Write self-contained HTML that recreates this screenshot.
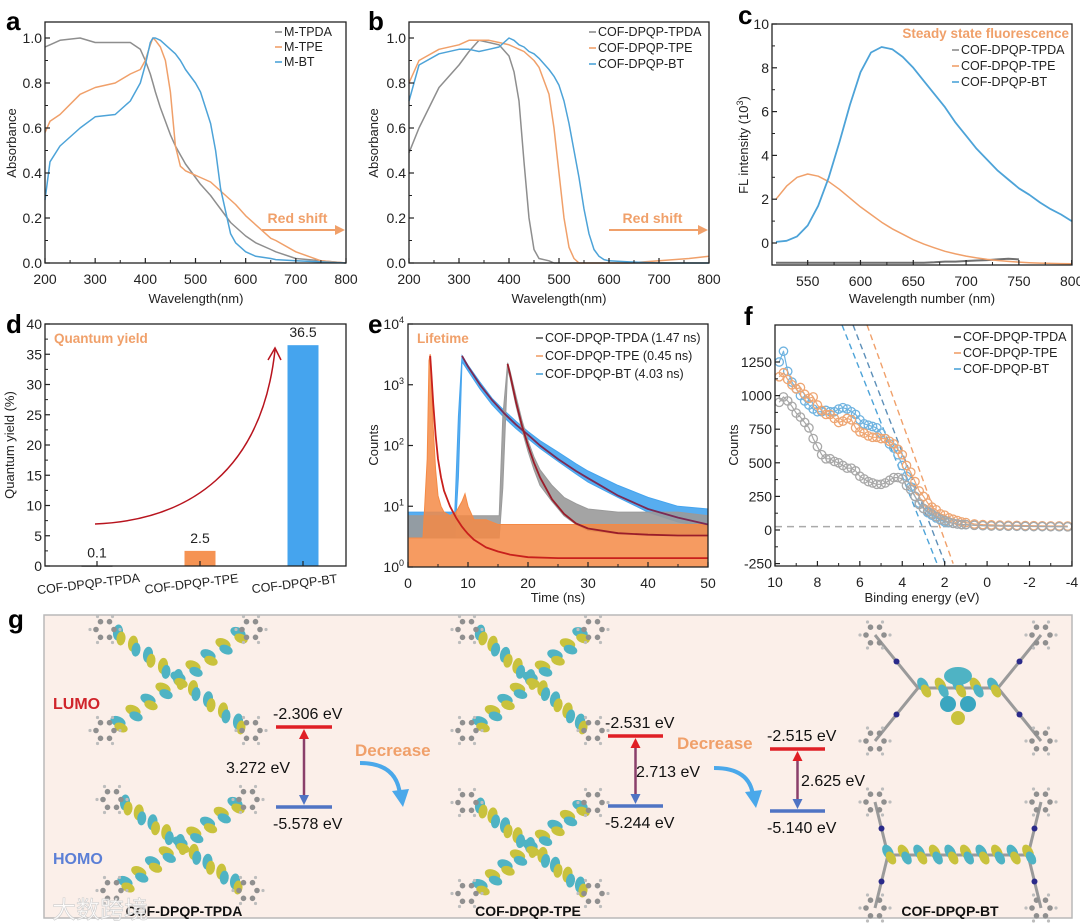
<!DOCTYPE html>
<html><head><meta charset="utf-8">
<style>
html,body{margin:0;padding:0;background:#fff;}
svg{display:block;font-family:"Liberation Sans","Noto Sans CJK SC",sans-serif;}
.tk{font-size:14px;fill:#222;}
.ttl{font-size:13px;fill:#222;}
.lg{font-size:12.5px;fill:#222;}
.pl{font-size:26px;font-weight:bold;fill:#000;}
</style></head>
<body>
<svg id="fig" width="1080" height="924" viewBox="0 0 1080 924" xmlns="http://www.w3.org/2000/svg">
<rect width="1080" height="924" fill="#fff"/>
<text class="pl" x="6" y="30">a</text>
<text class="pl" x="368" y="30">b</text>
<text class="pl" x="738" y="24">c</text>
<text class="pl" x="6" y="333">d</text>
<text class="pl" x="368" y="333">e</text>
<text class="pl" x="744" y="325">f</text>
<text class="pl" x="8" y="628">g</text>
</svg>
<script>
// ---------- DATA ----------
const aWl = [200,210,230,270,300,340,370,390,400,410,415,420,430,440,450,460,470,475,480,500,510,530,540,550,570,580,600,620,650,660,700,750,800];
const aTPDA = [0.96,0.97,0.99,1.0,0.98,0.98,0.98,0.95,0.9,0.84,0.8,0.76,0.69,0.63,0.57,0.52,0.48,0.46,0.44,0.38,0.35,0.3,0.27,0.24,0.18,0.16,0.12,0.09,0.06,0.05,0.02,0.01,0.0];
const aTPE = [0.58,0.63,0.66,0.75,0.78,0.8,0.84,0.86,0.9,0.97,1.0,0.99,0.96,0.9,0.76,0.52,0.43,0.42,0.41,0.39,0.38,0.36,0.34,0.32,0.28,0.26,0.21,0.17,0.11,0.1,0.05,0.01,0.0];
const aBT = [0.28,0.45,0.52,0.6,0.65,0.66,0.72,0.8,0.88,0.98,1.0,1.0,0.99,0.97,0.95,0.93,0.9,0.88,0.86,0.8,0.76,0.62,0.5,0.33,0.13,0.09,0.05,0.03,0.02,0.015,0.01,0.005,0.0];

const bWl = [200,220,260,300,320,340,360,380,400,410,420,430,440,450,460,480,490,500,510,520,530,540,550,560,570,580,590,600,640,700,760,800];
const bTPDA = [0.49,0.6,0.78,0.88,0.94,0.99,0.98,0.97,0.92,0.85,0.72,0.45,0.2,0.06,0.02,0.01,0.0,0.0,0.0,0.0,0.0,0.0,0.0,0.0,0.0,0.0,0.0,0.0,0.0,0.0,0.0,0.0];
const bTPE = [0.8,0.9,0.95,0.97,0.99,0.99,0.99,0.98,0.97,0.96,0.95,0.94,0.92,0.9,0.87,0.75,0.6,0.4,0.2,0.07,0.02,0.0,0.0,0.0,0.0,0.0,0.0,0.0,0.0,0.01,0.02,0.03];
const bBT = [0.72,0.88,0.93,0.95,0.95,0.94,0.95,0.96,1.0,0.99,0.97,0.96,0.94,0.93,0.91,0.86,0.83,0.79,0.72,0.62,0.5,0.38,0.24,0.13,0.06,0.03,0.015,0.01,0.005,0.0,0.0,0.0];

const cWl = [520,530,540,550,560,570,580,590,600,610,620,630,640,650,660,670,680,690,700,710,720,730,740,750,760,770,780,790,800];
const cTPDA = [-0.9,-0.9,-0.9,-0.9,-0.9,-0.9,-0.9,-0.9,-0.9,-0.9,-0.9,-0.9,-0.9,-0.9,-0.9,-0.88,-0.85,-0.85,-0.82,-0.8,-0.78,-0.75,-0.72,-0.75,null,null,null,null,null];
const cTPE = [2.0,2.6,3.0,3.15,3.05,2.8,2.45,2.05,1.65,1.3,0.95,0.65,0.4,0.15,-0.05,-0.22,-0.38,-0.5,-0.6,-0.68,-0.75,-0.8,-0.84,-0.87,-0.9,-0.92,-0.93,-0.94,-0.95];
const cBT = [0.05,0.1,0.3,0.8,1.7,3.0,4.6,6.3,7.8,8.7,8.95,8.85,8.5,8.0,7.4,6.8,6.2,5.5,4.9,4.3,3.8,3.3,2.9,2.5,2.2,1.85,1.55,1.3,1.0];

const dCats = ["COF-DPQP-TPDA","COF-DPQP-TPE","COF-DPQP-BT"];
const dVals = [0.1,2.5,36.5];
const dLabels = ["0.1","2.5","36.5"];

const eTpeT = [0,2.5,3.2,3.5,3.7,3.9,4.2,4.6,5,5.5,6,7,8,9,9.5,10,11,13,15,17,20,25,30,35,40,45,50];
const eTpeLow = [1,1,1,1,1,1,1,1,1,1,1,1,1,1,1,1,1,1,1,1,1,1,1,1,1,1,1];
const eTpeHigh = [3,3,60,2500,3200,1200,200,40,15,10,8,7,8,12,16,10,6,6,5,5,5,5,5,5,5,5,5];
const eTpeFit = [null,null,null,null,3000,1500,500,150,60,30,18,10,6.5,4.6,4,3.5,2.8,2.1,1.8,1.6,1.45,1.4,1.4,1.4,1.4,1.4,1.4];
const eBtT = [0,7.8,8.4,9,10,12,14,16,18,20,22,25,28,30,35,40,45,50];
const eBtLow = [3,3,30,2400,1700,850,470,290,190,130,90,55,34,25,14,8,5.5,4.5];
const eBtHigh = [8,8,300,3000,2100,1100,600,380,250,170,120,78,50,38,22,14,10,9];
const eBtFit = [null,null,null,3000,2000,1000,560,340,220,150,100,60,38,29,15,9,6.5,5];
const eTpdaT = [0,15.2,15.8,16.6,17,18,19,20,21,22,24,26,28,30,35,40,45,50];
const eTpdaLow = [3,3,20,1800,1300,450,180,80,40,22,12,7,5,4,3.5,3.5,3.5,3.5];
const eTpdaHigh = [7,7,300,2300,1700,650,260,120,65,40,22,14,11,9,8,8,8,7];
const eTpdaFit = [null,null,null,2200,1500,520,210,100,52,30,13,7.5,5.2,4.3,3.6,3.4,3.3,3.3];

const fE = [9.8,9.6,9.4,9.2,9.0,8.8,8.6,8.4,8.2,8.0,7.8,7.6,7.4,7.2,7.0,6.8,6.6,6.4,6.2,6.0,5.8,5.6,5.4,5.2,5.0,4.8,4.6,4.4,4.2,4.0,3.8,3.6,3.4,3.2,3.0,2.8,2.6,2.4,2.2,2.0,1.8,1.6,1.4,1.2,1.0,0.6,0.2,-0.2,-0.6,-1.0,-1.4,-1.8,-2.2,-2.6,-3.0,-3.4,-3.8];
const fTPDA = [950,990,960,920,870,840,800,760,680,620,560,530,530,510,500,480,460,460,440,400,380,360,350,340,340,350,370,390,390,380,330,300,250,190,160,140,120,100,80,70,60,50,45,40,40,35,32,30,30,28,28,27,26,26,25,25,24];
const fTPE = [1140,1170,1120,1080,1050,1060,1010,980,990,930,890,860,860,830,800,810,830,820,760,730,720,700,690,690,680,680,660,640,600,560,480,430,360,290,250,200,170,150,120,110,90,80,70,60,55,45,40,38,36,35,34,33,32,31,30,30,29];
const fBT = [1250,1330,1180,1100,1050,1000,960,930,900,880,880,890,880,880,900,910,900,880,860,820,790,780,770,760,720,680,640,610,560,480,400,320,250,200,160,130,110,90,75,60,55,50,45,40,40,36,33,31,30,29,28,27,27,26,26,25,25];
const fTanTop = [6.84,6.32,5.66];
const fTanBot = [2.36,1.98,1.60];
const fBaseline = 25;

const gLevels = [[-2.306,-5.578],[-2.531,-5.244],[-2.515,-5.140]];
const gGaps = ["3.272 eV","2.713 eV","2.625 eV"];
const gNames = ["COF-DPQP-TPDA","COF-DPQP-TPE","COF-DPQP-BT"];

// ---------- HELPERS ----------
const NS = "http://www.w3.org/2000/svg";
const svg = document.getElementById('fig');
function add(tag, attrs, parent){
  const e = document.createElementNS(NS, tag);
  for (const k in attrs) e.setAttribute(k, attrs[k]);
  (parent || svg).appendChild(e);
  return e;
}
function txt(s, attrs, parent){ const e = add('text', attrs, parent); e.textContent = s; return e; }
const GRAY="#8e8e8e", ORANGE="#f0a06a", BLUE="#4da3d8", LBLUE="#45a4ee", RED="#b8141e";

function ptsOf(xs, ys, sx, sy){
  const out=[]; for(let i=0;i<xs.length;i++){ if(ys[i]===null||ys[i]===undefined) continue; out.push(sx(xs[i]).toFixed(1)+","+sy(ys[i]).toFixed(1)); } return out.join(" ");
}
function frame(x0,y0,x1,y1,name){
  let el = add('rect',{x:x0,y:y0,width:x1-x0,height:y1-y0,fill:'none',stroke:'#222','stroke-width':1.3});
  
  
}
function xAxis(ticks, labels, sx, yBase, name, minor){
  ticks.forEach((t,i)=>{
    let tk = add('line',{x1:sx(t),x2:sx(t),y1:yBase,y2:yBase-5,stroke:'#222','stroke-width':1.2});
    
    
    let lb = txt(labels[i],{x:sx(t),y:yBase+21,'text-anchor':'middle',class:'tk'});
    
    
    if(minor && i<ticks.length-1){
      const m=(t+ticks[i+1])/2;
      let mk = add('line',{x1:sx(m),x2:sx(m),y1:yBase,y2:yBase-3,stroke:'#222','stroke-width':1});
      
      
    }
  });
}
function yAxis(ticks, labels, sy, xBase, name, minor){
  ticks.forEach((t,i)=>{
    let tk = add('line',{x1:xBase,x2:xBase+5,y1:sy(t),y2:sy(t),stroke:'#222','stroke-width':1.2});
    
    
    let lb = txt(labels[i],{x:xBase-3,y:sy(t)+5,'text-anchor':'end',class:'tk'});
    
    
    if(minor && i<ticks.length-1){
      const m=(t+ticks[i+1])/2;
      let mk = add('line',{x1:xBase,x2:xBase+3,y1:sy(m),y2:sy(m),stroke:'#222','stroke-width':1});
      
      
    }
  });
}
function line(xs, ys, sx, sy, color, name, w){
  let el = add('polyline',{points:ptsOf(xs,ys,sx,sy),fill:'none',stroke:color,'stroke-width':w||1.5,'stroke-linejoin':'round'});
  
  
  return el;
}
function legend(items, x, y0, dy, name){
  items.forEach((it,i)=>{
    let l = add('line',{x1:x-9,x2:x-2,y1:y0+i*dy-4,y2:y0+i*dy-4,stroke:it[1],'stroke-width':1.6});
    
    
    let t = txt(it[0],{x:x,y:y0+i*dy,class:'lg'});
    
    
  });
}
function vTitle(s,x,y,name){
  let t = txt(s,{x:x,y:y,'text-anchor':'middle',class:'ttl',transform:`rotate(-90 ${x} ${y})`});
  
  
  return t;
}
function hTitle(s,x,y,name){
  let t = txt(s,{x:x,y:y,'text-anchor':'middle',class:'ttl'});
  
  
}
function redShift(x0,x1,y,name){
  let t = txt('Red shift',{x:(x0+x1)/2-6,y:y-7,'text-anchor':'middle','font-size':14,'font-weight':'bold',fill:ORANGE});
  
  
  let l = add('line',{x1:x0,x2:x1-8,y1:y,y2:y,stroke:ORANGE,'stroke-width':2});
  
  
  let h = add('polygon',{points:`${x1},${y} ${x1-10},${y-5} ${x1-10},${y+5}`,fill:ORANGE});
  
  
}

// ---------- PANEL A ----------
const xa = v=>45+(v-200)*301/600, ya = v=>263-v*225;
line(aWl,aTPDA,xa,ya,GRAY,'curve-m-tpda');
line(aWl,aTPE,xa,ya,ORANGE,'curve-m-tpe');
line(aWl,aBT,xa,ya,BLUE,'curve-m-bt');
frame(45,22,346,263,'plot-frame-a');
xAxis([200,300,400,500,600,700,800],["200","300","400","500","600","700","800"],xa,263,'x-axis-a',true);
yAxis([0,0.2,0.4,0.6,0.8,1.0],["0.0","0.2","0.4","0.6","0.8","1.0"],ya,45,'y-axis-a',true);
vTitle('Absorbance',16,143,'y-axis-title-a');
hTitle('Wavelength(nm)',196,303,'x-axis-title-a');
legend([["M-TPDA",GRAY],["M-TPE",ORANGE],["M-BT",BLUE]],284,36,15,'legend-a');
redShift(262,345,230,'red-shift-a');

// ---------- PANEL B ----------
const xb = v=>409+(v-200)*0.5, yb = ya;
line(bWl,bTPDA,xb,yb,GRAY,'curve-cof-tpda-abs');
line(bWl,bTPE,xb,yb,ORANGE,'curve-cof-tpe-abs');
line(bWl,bBT,xb,yb,BLUE,'curve-cof-bt-abs');
frame(409,22,709,263,'plot-frame-b');
xAxis([200,300,400,500,600,700,800],["200","300","400","500","600","700","800"],xb,263,'x-axis-b',true);
yAxis([0,0.2,0.4,0.6,0.8,1.0],["0.0","0.2","0.4","0.6","0.8","1.0"],yb,409,'y-axis-b',true);
vTitle('Absorbance',378,143,'y-axis-title-b');
hTitle('Wavelength(nm)',559,303,'x-axis-title-b');
legend([["COF-DPQP-TPDA",GRAY],["COF-DPQP-TPE",ORANGE],["COF-DPQP-BT",BLUE]],598,36,16,'legend-b');
redShift(609,708,230,'red-shift-b');

// ---------- PANEL C ----------
const xc = v=>776+(v-520)*1.056, yc = v=>243-v*21.9;
line(cWl,cTPDA,xc,yc,'#6f6f6f','curve-cof-tpda-fl',2);
line(cWl,cTPE,xc,yc,ORANGE,'curve-cof-tpe-fl');
line(cWl,cBT,xc,yc,BLUE,'curve-cof-bt-fl',1.8);
frame(772,24,1072,265,'plot-frame-c');
xAxis([550,600,650,700,750,800],["550","600","650","700","750","800"],xc,265,'x-axis-c',true);
yAxis([0,2,4,6,8,10],["0","2","4","6","8","10"],yc,772,'y-axis-c',true);
{ let t = txt('',{x:748,y:145,'text-anchor':'middle',class:'ttl',transform:'rotate(-90 748 145)'});
  t.innerHTML='FL intensity (10<tspan font-size="9" dy="-5">3</tspan><tspan dy="5">)</tspan>';
  
   }
hTitle('Wavelength number (nm)',922,303,'x-axis-title-c');
{ let t = txt('Steady state fluorescence',{x:1069,y:38,'text-anchor':'end','font-size':13.5,'font-weight':'bold',fill:ORANGE});
  
   }
legend([["COF-DPQP-TPDA",GRAY],["COF-DPQP-TPE",ORANGE],["COF-DPQP-BT",BLUE]],961,54,16,'legend-c');

// ---------- PANEL D ----------
const yd = v=>566-v*6.05;
const xd = i=>97+i*103;
dVals.forEach((v,i)=>{
  const colors=[GRAY,"#f59353",LBLUE];
  let b = add('rect',{x:xd(i)-15.5,y:yd(v),width:31,height:Math.max(566-yd(v),1.5),fill:colors[i]});
  
  
  let l = txt(dLabels[i],{x:xd(i),y:yd(v)-8,'text-anchor':'middle',class:'tk'});
  
  
  let c = txt(dCats[i],{x:xd(i)-8,y:588,'text-anchor':'middle','font-size':12.5,fill:'#222',transform:`rotate(-7 ${xd(i)-8} 588)`});
  
  
});
frame(45,324,346,566,'plot-frame-d');
yAxis([0,5,10,15,20,25,30,35,40],["0","5","10","15","20","25","30","35","40"],yd,45,'y-axis-d',true);
dCats.forEach((c,i)=>{ let t=add('line',{x1:xd(i),x2:xd(i),y1:566,y2:561,stroke:'#222','stroke-width':1.2});
    });
vTitle('Quantum yield (%)',14,445,'y-axis-title-d');
{ let t = txt('Quantum yield',{x:54,y:343,'font-size':13.5,'font-weight':'bold',fill:ORANGE});
  
  
  let p = add('path',{d:`M 95 524 C 190 520, 262 470, 275 350`,fill:'none',stroke:RED,'stroke-width':1.5});
  
  
  let h = add('polyline',{points:'268,360 275,348 281,360',fill:'none',stroke:RED,'stroke-width':1.5});
  
   }

// ---------- PANEL E ----------
const xe = t=>408+t*6, ye = v=>567-Math.log10(v)*60.75;
function band(ts,lo,hi,color,name,op){
  const up=[],dn=[];
  for(let i=0;i<ts.length;i++){ up.push(xe(ts[i]).toFixed(1)+","+ye(hi[i]).toFixed(1)); dn.unshift(xe(ts[i]).toFixed(1)+","+ye(lo[i]).toFixed(1)); }
  let p = add('polygon',{points:up.concat(dn).join(" "),fill:color,stroke:color,'stroke-width':1,'fill-opacity':op});
  
  
}
band(eBtT,eBtLow,eBtHigh,LBLUE,'decay-cof-bt',0.9);
band(eTpdaT,eTpdaLow,eTpdaHigh,'#9a9a9a','decay-cof-tpda',0.9);
band(eTpeT,eTpeLow,eTpeHigh,'#f58a45','decay-cof-tpe',0.85);
line(eBtT,eBtFit,xe,ye,'#7a2a55','fit-cof-bt',1.8);
line(eTpdaT,eTpdaFit,xe,ye,'#9a1d2a','fit-cof-tpda',1.8);
line(eTpeT,eTpeFit,xe,ye,'#c8201c','fit-cof-tpe',1.8);
frame(408,324,708,567,'plot-frame-e');
xAxis([0,10,20,30,40,50],["0","10","20","30","40","50"],xe,567,'x-axis-e',true);
[1,10,100,1000,10000].forEach((v,i)=>{
  let tk = add('line',{x1:408,x2:413,y1:ye(v),y2:ye(v),stroke:'#222','stroke-width':1.2});
  
  
  let t = txt('',{x:404,y:ye(v)+5,'text-anchor':'end',class:'tk'});
  t.innerHTML='10<tspan font-size="9" dy="-6">'+i+'</tspan>';
  
  
});
vTitle('Counts',378,445,'y-axis-title-e');
hTitle('Time (ns)',558,602,'x-axis-title-e');
{ let t = txt('Lifetime',{x:417,y:343,'font-size':13.5,'font-weight':'bold',fill:ORANGE});
  
   }
legend([["COF-DPQP-TPDA (1.47 ns)","#555"],["COF-DPQP-TPE (0.45 ns)",ORANGE],["COF-DPQP-BT (4.03 ns)",BLUE]],545,342,18,'legend-e');

// ---------- PANEL F ----------
const xf = E=>775+(10-E)*21.21, yf = c=>530-c*0.1344;
{ let b = add('line',{x1:xf(10),x2:xf(1.8),y1:yf(fBaseline),y2:yf(fBaseline),stroke:'#aaa','stroke-width':1.5,'stroke-dasharray':'7,5'});
  
   }
const tanColors=[BLUE,'#5d8fb8',ORANGE];
fTanTop.forEach((e,i)=>{
  let l = add('line',{x1:xf(e),y1:yf(1525),x2:xf(fTanBot[i]),y2:yf(-250),stroke:tanColors[i],'stroke-width':1.4,'stroke-dasharray':'6,4'});
  
  
});
function scatter(ys,color,name){
  line(fE,ys,xf,yf,color,name+'-line',1.2);
  fE.forEach((e,i)=>{
    let c = add('circle',{cx:xf(e),cy:yf(ys[i]),r:4.2,fill:'none',stroke:color,'stroke-width':1.3});
    
    
  });
}
scatter(fBT,'#6fb3e0','ups-cof-bt');
scatter(fTPE,'#eea673','ups-cof-tpe');
scatter(fTPDA,'#a8a8a8','ups-cof-tpda');
frame(775,325,1072,566,'plot-frame-f');
xAxis([10,8,6,4,2,0,-2,-4],["10","8","6","4","2","0","-2","-4"],xf,566,'x-axis-f',true);
yAxis([-250,0,250,500,750,1000,1250],["-250","0","250","500","750","1000","1250"],yf,775,'y-axis-f',true);
vTitle('Counts',738,445,'y-axis-title-f');
hTitle('Binding energy (eV)',922,602,'x-axis-title-f');
legend([["COF-DPQP-TPDA","#444"],["COF-DPQP-TPE",ORANGE],["COF-DPQP-BT",BLUE]],963,341,16,'legend-f');

// ---------- PANEL G ----------
{ let r = add('rect',{x:44,y:615,width:1028,height:303,fill:'#fbefe9',stroke:'#b9b9b9','stroke-width':1.5});
  
   }
function blobChain(g,x0,y0,x1,y1,n){
  const ang=Math.atan2(y1-y0,x1-x0)*180/Math.PI;
  for(let k=0;k<n;k++){
    const f=n>1?k/(n-1):0.5, x=x0+(x1-x0)*f, y=y0+(y1-y0)*f;
    add('ellipse',{cx:x,cy:y-3,rx:8,ry:5,fill:k%2?'#c9c23c':'#4fb3c4',transform:`rotate(${ang+60} ${x} ${y-3})`},g);
    add('ellipse',{cx:x+3,cy:y+3,rx:7,ry:4.5,fill:k%2?'#4fb3c4':'#c9c23c',transform:`rotate(${ang+60} ${x+3} ${y+3})`},g);
  }
}
function phenyl(g,x,y){
  for(let k=0;k<6;k++){
    const an=k*Math.PI/3;
    add('circle',{cx:x+Math.cos(an)*9,cy:y+Math.sin(an)*9,r:2.8,fill:'#8f8f8f'},g);
    add('circle',{cx:x+Math.cos(an)*15,cy:y+Math.sin(an)*15,r:1.6,fill:'#bdbdbd'},g);
  }
}
function molecule(cx,cy,w,h,kind,name){
  const g = add('g',{});
  
  
  const corners=[[-w/2+12,-h/2+12],[w/2-12,-h/2+12],[-w/2+12,h/2-12],[w/2-12,h/2-12]];
  if(kind==='x'){
    blobChain(g,cx-w/2+25,cy-h/2+18,cx+w/2-25,cy+h/2-18,9);
    blobChain(g,cx-w/2+25,cy+h/2-18,cx+w/2-25,cy-h/2+18,9);
  } else {
    const half = kind==='bt-lumo'?40:70;
    corners.forEach(c=>{
      const ex = cx + (c[0]<0?-half:half);
      add('line',{x1:cx+c[0],y1:cy+c[1],x2:ex,y2:cy,stroke:'#9a9a9a','stroke-width':3},g);
      add('circle',{cx:(cx+c[0]+ex)/2,cy:(cy+c[1]+cy)/2,r:3,fill:'#2a2a8a'},g);
    });
    add('line',{x1:cx-half,y1:cy,x2:cx+half,y2:cy,stroke:'#9a9a9a','stroke-width':3},g);
    if(kind==='bt-lumo'){
      blobChain(g,cx-35,cy,cx+35,cy,5);
      add('ellipse',{cx:cx,cy:cy-12,rx:14,ry:9,fill:'#4fb3c4'},g);
      add('circle',{cx:cx-10,cy:cy+16,r:8,fill:'#3aa6c0'},g);
      add('circle',{cx:cx+10,cy:cy+16,r:8,fill:'#3aa6c0'},g);
      add('circle',{cx:cx,cy:cy+30,r:7,fill:'#c9c23c'},g);
    } else {
      blobChain(g,cx-70,cy,cx+70,cy,10);
    }
  }
  corners.forEach(c=>phenyl(g,cx+c[0],cy+c[1]));
}
molecule(178,680,170,125,'x','molecule-tpda-lumo');
molecule(180,845,160,115,'x','molecule-tpda-homo');
molecule(530,680,150,125,'x','molecule-tpe-lumo');
molecule(530,848,150,115,'x','molecule-tpe-homo');
molecule(958,688,190,130,'bt-lumo','molecule-bt-lumo');
molecule(958,855,190,130,'bt-homo','molecule-bt-homo');
{ let t = txt('LUMO',{x:53,y:709,'font-size':16,'font-weight':'bold',fill:'#d0242b'});
   
  let h = txt('HOMO',{x:53,y:864,'font-size':16,'font-weight':'bold',fill:'#5b7fd6'});
    }
const gX=[[276,332],[608,663],[770,825]];
const gY=[[727,807],[736,806],[749,811]];
const gapX=[226,636,801];
gLevels.forEach((lv,i)=>{
  const [x0,x1]=gX[i], [yl,yh]=gY[i], mx=(x0+x1)/2;
  let r = add('line',{x1:x0,x2:x1,y1:yl,y2:yl,stroke:'#e01f25','stroke-width':3.5});
   
  let b = add('line',{x1:x0,x2:x1,y1:yh,y2:yh,stroke:'#4f74c4','stroke-width':3.5});
   
  let a = add('line',{x1:mx,x2:mx,y1:yl+10,y2:yh-10,stroke:'#8a3f6a','stroke-width':2.5});
   
  let ah1 = add('polygon',{points:`${mx},${yl+2} ${mx-5},${yl+12} ${mx+5},${yl+12}`,fill:'#e01f25'});
   
  let ah2 = add('polygon',{points:`${mx},${yh-2} ${mx-5},${yh-12} ${mx+5},${yh-12}`,fill:'#4f74c4'});
   
  let t1 = txt(lv[0].toFixed(3)+' eV',{x:x0-3,y:yl-8,'font-size':16,fill:'#111'});
   
  let t2 = txt(lv[1].toFixed(3)+' eV',{x:x0-3,y:yh+22,'font-size':16,fill:'#111'});
   
  let t3 = txt(gGaps[i],{x:gapX[i],y:(yl+yh)/2+6,'font-size':16,fill:'#111'});
   
});
[[355,756,360,763,402,805],[677,749,714,768,755,806]].forEach((d,i)=>{
  let t = txt('Decrease',{x:d[0],y:d[1],'font-size':17,'font-weight':'bold',fill:ORANGE});
   
  let p = add('path',{d:`M ${d[2]} ${d[3]} Q ${d[4]-5} ${d[3]} ${d[4]-2} ${d[5]-10}`,fill:'none',stroke:'#4aa8ea','stroke-width':4});
   
  let h = add('polygon',{points:`${d[4]-10},${d[5]-14} ${d[4]+7},${d[5]-16} ${d[4]+1},${d[5]+2}`,fill:'#4aa8ea'});
   
});
[[184,gNames[0]],[528,gNames[1]],[950,gNames[2]]].forEach(n=>{
  let t = txt(n[1],{x:n[0],y:916,'text-anchor':'middle','font-size':14,'font-weight':'bold',fill:'#111'});
   
});
{ let w = txt('大数跨境',{x:52,y:918,'font-size':24,fill:'#fff','fill-opacity':0.8,stroke:'#ccc','stroke-width':0.6});
    }
</script>
</body></html>
